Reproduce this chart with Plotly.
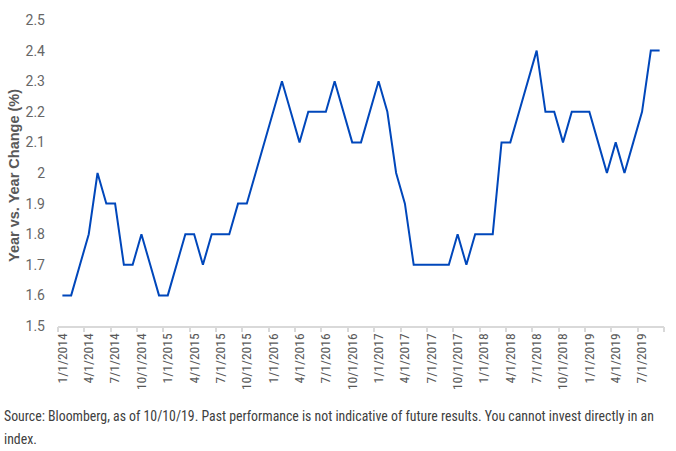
import plotly.graph_objects as go

months = []
for yr in range(2014, 2020):
    for m in range(1, 13):
        if yr == 2019 and m > 9:
            break
        months.append(f"{m}/1/{yr}")

values = [
    1.6, 1.6, 1.7, 1.8, 2.0, 1.9, 1.9, 1.7, 1.7, 1.8, 1.7, 1.6,
    1.6, 1.7, 1.8, 1.8, 1.7, 1.8, 1.8, 1.8, 1.9, 1.9, 2.0, 2.1,
    2.2, 2.3, 2.2, 2.1, 2.2, 2.2, 2.2, 2.3, 2.2, 2.1, 2.1, 2.2,
    2.3, 2.2, 2.0, 1.9, 1.7, 1.7, 1.7, 1.7, 1.7, 1.8, 1.7, 1.8,
    1.8, 1.8, 2.1, 2.1, 2.2, 2.3, 2.4, 2.2, 2.2, 2.1, 2.2, 2.2,
    2.2, 2.1, 2.0, 2.1, 2.0, 2.1, 2.2, 2.4, 2.4,
]
y_ticks = [1.5, 1.6, 1.7, 1.8, 1.9, 2.0, 2.1, 2.2, 2.3, 2.4, 2.5]
y_tick_text = ["1.5", "1.6", "1.7", "1.8", "1.9", "2", "2.1", "2.2", "2.3", "2.4", "2.5"]

idx = list(range(len(months)))
label_idx = idx[::3]
label_text = [months[i] for i in label_idx]
tick_bounds = [i - 0.5 for i in label_idx] + [len(months) - 0.5]

NARROW = "Roboto Condensed, Liberation Sans Narrow, sans-serif"
GRAY = "#595959"

L, R, T, B = 58, 12, 14, 125
PW, PH = 676 - L - R, 451 - T - B

fig = go.Figure()
fig.add_trace(go.Scatter(x=idx, y=values, mode="lines",
                         line=dict(color="#0047BB", width=2), showlegend=False))
fig.add_trace(go.Scatter(x=[idx[0]], y=[values[0]], xaxis="x2", mode="markers",
                         marker=dict(opacity=0), showlegend=False, hoverinfo="skip"))

rng = [-0.5, len(months) - 0.5]
fig.update_layout(
    width=676, height=451,
    margin=dict(l=L, r=R, t=T, b=B),
    plot_bgcolor="white", paper_bgcolor="white",
    font=dict(family=NARROW, color=GRAY),
    xaxis=dict(range=rng, tickmode="array", tickvals=label_idx, ticktext=label_text,
               tickangle=-90, ticks="", showgrid=False, zeroline=False,
               showline=True, linecolor="#d9d9d9", linewidth=2,
               tickfont=dict(size=13.5, color=GRAY, family=NARROW)),
    xaxis2=dict(range=rng, overlaying="x", side="bottom", tickmode="array",
                tickvals=tick_bounds, showticklabels=False, ticks="outside",
                ticklen=5, tickwidth=1.5, tickcolor="#d9d9d9", showgrid=False,
                zeroline=False, showline=False),
    yaxis=dict(range=[1.5, 2.5], tickmode="array", tickvals=y_ticks, ticktext=y_tick_text,
               showgrid=False, zeroline=False, showline=False, ticks="",
               ticklabelstandoff=12,
               tickfont=dict(size=14, color="#666666", family="Roboto, sans-serif")),
    annotations=[
        dict(text="<b>Year vs. Year Change (%)</b>", textangle=-90,
             xref="paper", yref="paper", x=(14 - L) / PW, y=(451 - B - 173) / PH,
             xanchor="center", yanchor="middle", showarrow=False,
             font=dict(size=14.5, color=GRAY, family="Liberation Sans, Arial, sans-serif")),
        dict(text="Source: Bloomberg, as of 10/10/19. Past performance is not indicative of future results. You cannot invest directly in an",
             xref="paper", yref="paper", x=(2 - L) / PW, y=(451 - B - 418) / PH,
             xanchor="left", yanchor="middle", align="left", showarrow=False,
             font=dict(size=13.8, color="#404040", family=NARROW)),
        dict(text="index.",
             xref="paper", yref="paper", x=(2 - L) / PW, y=(451 - B - 441) / PH,
             xanchor="left", yanchor="middle", align="left", showarrow=False,
             font=dict(size=13.8, color="#404040", family=NARROW)),
    ],
)

fig.write_html("out.html")
